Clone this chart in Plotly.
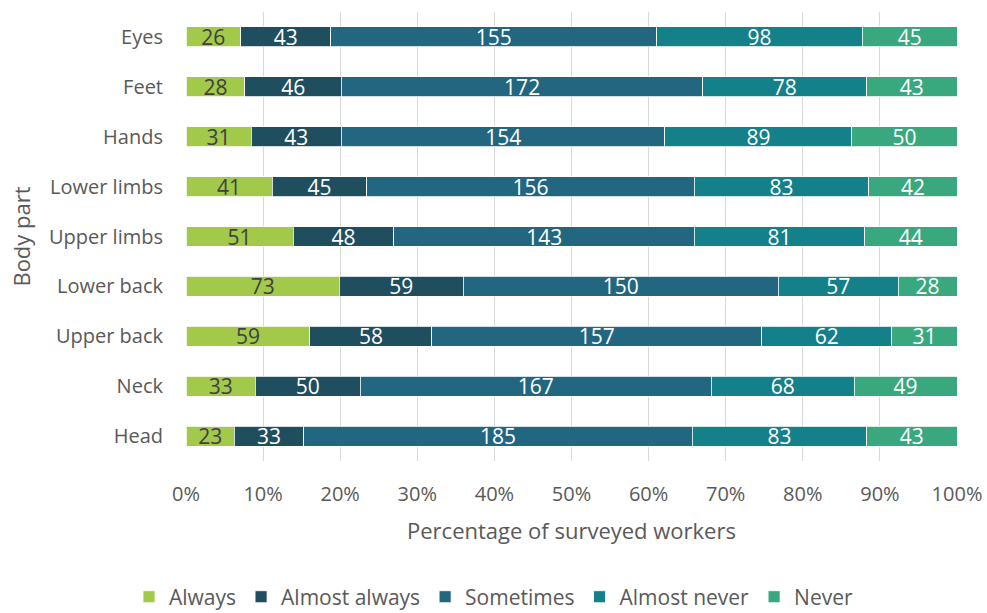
import plotly.graph_objects as go

# Body parts, bottom to top as drawn on the category axis
body_parts = ["Head", "Neck", "Upper back", "Lower back", "Upper limbs",
              "Lower limbs", "Hands", "Feet", "Eyes"]

# Number of workers answering each frequency, per body part
always = [23, 33, 59, 73, 51, 41, 31, 28, 26]
almost_always = [33, 50, 58, 59, 48, 45, 43, 46, 43]
sometimes = [185, 167, 157, 150, 143, 156, 154, 172, 155]
almost_never = [83, 68, 62, 57, 81, 83, 89, 78, 98]
never = [43, 49, 31, 28, 44, 42, 50, 43, 45]

x_ticks = [0, 10, 20, 30, 40, 50, 60, 70, 80, 90, 100]
x_tick_labels = [f"{v}%" for v in x_ticks]

series = [
    ("Always", always, "#A2C94A", "#404040"),
    ("Almost always", almost_always, "#1F4E5F", "#FFFFFF"),
    ("Sometimes", sometimes, "#22667F", "#FFFFFF"),
    ("Almost never", almost_never, "#13808A", "#FFFFFF"),
    ("Never", never, "#3AA87F", "#FFFFFF"),
]

FONT = "Open Sans"
GREY = "#595959"

fig = go.Figure()
for name, values, color, text_color in series:
    fig.add_trace(go.Bar(
        name=name,
        y=body_parts,
        x=values,
        orientation="h",
        marker=dict(color=color, line=dict(color="#FFFFFF", width=0.8)),
        text=[str(v) for v in values],
        texttemplate="%{text}",
        textposition="inside",
        insidetextanchor="middle",
        textangle=0,
        textfont=dict(family=FONT, size=21, color=text_color),
        constraintext="none",
        hoverinfo="skip",
    ))

fig.update_layout(
    barmode="stack",
    barnorm="percent",
    bargap=0.6,
    width=987,
    height=613,
    margin=dict(l=186, r=30, t=12, b=152),
    paper_bgcolor="white",
    plot_bgcolor="white",
    font=dict(family=FONT, size=20, color=GREY),
    uniformtext=dict(minsize=21, mode="show"),
    xaxis=dict(
        range=[0, 100],
        tickvals=x_ticks,
        ticktext=x_tick_labels,
        showgrid=True,
        gridcolor="#D9D9D9",
        gridwidth=1,
        zeroline=False,
        showline=False,
        ticks="",
        automargin=False,
        ticklabelstandoff=19,
        tickfont=dict(family=FONT, size=20, color=GREY),
        title=dict(text="Percentage of surveyed workers",
                   font=dict(family=FONT, size=22, color=GREY), standoff=17),
    ),
    yaxis=dict(
        categoryorder="array",
        categoryarray=body_parts,
        showgrid=False,
        zeroline=False,
        showline=False,
        ticks="",
        automargin=False,
        ticklabelstandoff=22,
        tickfont=dict(family=FONT, size=20, color=GREY),
        title=dict(text="Body part",
                   font=dict(family=FONT, size=22, color=GREY), standoff=12),
    ),
    legend=dict(
        orientation="h",
        xref="container",
        yref="container",
        x=0.5,
        xanchor="center",
        y=0.026,
        yanchor="middle",
        font=dict(family=FONT, size=21, color=GREY),
        traceorder="normal",
        itemwidth=30,
    ),
)

fig.write_html("out.html")
